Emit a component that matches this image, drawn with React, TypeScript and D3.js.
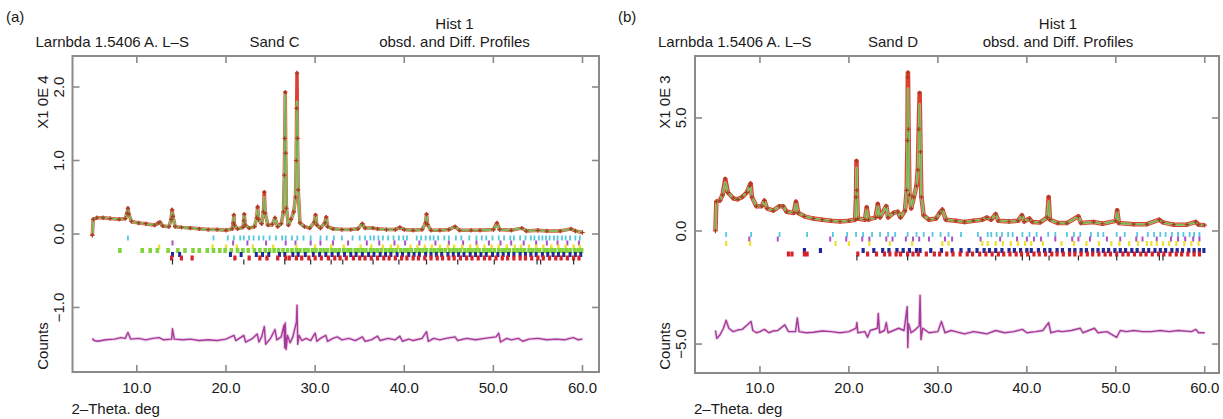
import React from 'react';
import * as d3 from 'd3';

type P = [number, number];

// ---------- shared tick labels ----------
const xTickValues = [10, 20, 30, 40, 50, 60];
const yTickValuesA = [-1, 0, 1, 2];
const yTickValuesB = [-5, 0, 5];

// ---------- Panel (a): Sand C, counts x1E4 ----------
const obsA: P[] = [
  [5.0,-0.02],[5.1,0.2],[5.5,0.22],[6.2,0.22],[7.0,0.21],[8.0,0.2],[8.7,0.21],[8.9,0.28],[9.0,0.35],[9.1,0.27],[9.4,0.17],
  [10.2,0.15],[11.0,0.14],[12.0,0.12],[12.4,0.15],[12.6,0.16],[12.9,0.11],[13.6,0.1],[13.85,0.2],[13.95,0.33],[14.05,0.24],
  [14.3,0.1],[15.0,0.09],[16.0,0.08],[17.0,0.07],[18.0,0.06],[19.0,0.06],[20.0,0.05],[20.7,0.07],[20.82,0.15],[20.88,0.26],
  [20.95,0.12],[21.3,0.07],[21.9,0.09],[22.0,0.18],[22.05,0.27],[22.15,0.12],[22.6,0.08],[23.2,0.1],[23.45,0.22],[23.55,0.37],
  [23.65,0.2],[24.0,0.14],[24.2,0.3],[24.3,0.57],[24.4,0.28],[24.7,0.12],[25.2,0.13],[25.5,0.22],[25.8,0.1],[26.2,0.14],
  [26.45,0.3],[26.55,0.8],[26.6,1.3],[26.65,1.93],[26.7,1.1],[26.78,0.35],[27.0,0.12],[27.3,0.2],[27.6,0.3],[27.8,0.5],
  [27.88,1.0],[27.93,1.71],[27.97,2.19],[28.02,1.3],[28.1,0.6],[28.3,0.15],[28.8,0.1],[29.4,0.08],[29.9,0.16],[30.05,0.26],
  [30.2,0.12],[30.6,0.08],[31.1,0.15],[31.25,0.23],[31.4,0.1],[32.0,0.07],[33.0,0.06],[34.0,0.06],[34.8,0.07],[35.3,0.14],
  [35.6,0.08],[36.5,0.08],[37.0,0.07],[38.0,0.06],[39.0,0.06],[39.5,0.09],[40.0,0.06],[41.0,0.05],[42.0,0.06],[42.4,0.15],
  [42.5,0.27],[42.6,0.13],[43.0,0.05],[44.0,0.05],[45.0,0.06],[45.7,0.1],[46.2,0.05],[47.5,0.05],[48.5,0.05],[50.0,0.06],
  [50.4,0.15],[50.7,0.06],[52.0,0.05],[53.2,0.08],[53.7,0.04],[55.0,0.05],[56.0,0.04],[57.5,0.04],[58.7,0.07],[59.2,0.04],[60.0,0.02]
];
// calculated profile: where it differs from the observed points
const calcTopsA: P[] = [
  [5.0,0.0],[9.0,0.33],[13.95,0.3],[20.88,0.24],[22.05,0.25],[23.55,0.33],[24.3,0.5],[26.6,1.2],[26.65,1.89],
  [27.93,1.5],[27.97,1.8],[30.05,0.24],[31.25,0.21],[42.5,0.24],[50.4,0.13]
];
const diffA: P[] = [
  [5.0,-1.42],[5.2,-1.45],[5.6,-1.46],[6.5,-1.44],[7.5,-1.43],[8.2,-1.41],[8.7,-1.42],[9.0,-1.34],[9.3,-1.43],[10.2,-1.42],
  [11.0,-1.44],[11.8,-1.42],[12.5,-1.41],[13.0,-1.44],[13.9,-1.43],[14.0,-1.29],[14.2,-1.43],[15.2,-1.44],[16.0,-1.43],
  [17.0,-1.45],[18.0,-1.44],[19.0,-1.45],[20.0,-1.43],[20.9,-1.38],[21.1,-1.45],[21.5,-1.42],[22.0,-1.38],[22.2,-1.47],
  [23.0,-1.42],[23.5,-1.36],[23.7,-1.47],[24.0,-1.4],[24.3,-1.26],[24.45,-1.5],[25.0,-1.42],[25.5,-1.3],[25.7,-1.44],
  [26.2,-1.4],[26.5,-1.24],[26.6,-1.55],[26.65,-1.21],[26.75,-1.57],[26.9,-1.38],[27.2,-1.48],[27.5,-1.4],[27.9,-1.2],
  [27.97,-0.97],[28.05,-1.5],[28.2,-1.38],[28.5,-1.45],[29.0,-1.42],[29.5,-1.45],[30.0,-1.35],[30.2,-1.46],[30.6,-1.42],
  [31.2,-1.38],[31.4,-1.46],[32.0,-1.42],[32.5,-1.4],[33.0,-1.44],[33.8,-1.42],[34.5,-1.45],[35.3,-1.4],[35.6,-1.46],
  [36.3,-1.44],[37.0,-1.39],[37.3,-1.45],[38.2,-1.42],[39.0,-1.44],[39.5,-1.39],[39.8,-1.46],[40.5,-1.43],[41.0,-1.45],
  [42.0,-1.42],[42.5,-1.33],[42.7,-1.46],[43.3,-1.42],[44.0,-1.44],[44.7,-1.42],[45.7,-1.4],[46.0,-1.45],[47.0,-1.42],
  [48.0,-1.44],[49.0,-1.42],[50.3,-1.4],[50.6,-1.35],[50.8,-1.47],[51.5,-1.42],[52.0,-1.44],[52.8,-1.42],[53.3,-1.46],
  [54.0,-1.43],[55.0,-1.42],[56.0,-1.44],[57.0,-1.43],[58.0,-1.44],[58.6,-1.42],[59.0,-1.41],[59.5,-1.44],[60.0,-1.43]
];
const refCyanA = [9.0,18.6,20.2,20.9,21.6,22.0,22.6,23.1,23.7,24.2,24.9,25.6,26.3,26.7,27.4,28.0,28.7,29.5,30.6,31.3,32.1,33.0,34.2,35.0,35.6,36.2,36.6,37.1,37.6,38.2,38.8,39.4,39.9,40.3,41.4,41.9,42.4,42.9,43.3,43.8,44.5,45.0,45.8,46.4,47.3,48.1,48.7,49.2,49.9,50.6,51.2,51.9,52.3,53.0,53.6,54.2,54.6,55.1,55.5,55.9,56.3,56.8,57.2,57.7,58.1,58.6,59.2,59.7];
const refMagentaA = [14.0,20.8,22.4,24.5,26.7,27.8,29.5,30.6,32.0,33.7,35.8,37.2,38.9,40.1,41.7,43.5,45.0,46.6,48.1,49.5,50.8,52.0,53.4,54.8,56.0,57.2,58.3,59.6];
const refYellowA = [12.5,18.5,20.0,21.2,23.0,25.3,27.9,30.0,31.8,33.2,35.1,36.3,37.6,38.5,39.3,40.7,41.5,42.3,43.1,44.0,44.9,45.6,46.5,47.4,48.2,49.0,49.8,50.6,51.5,52.4,53.1,54.0,54.8,55.6,56.5,57.3,58.1,59.0,59.7];
const refGreenA = [8.1,10.6,11.5,12.3,13.5,14.6,15.4,16.3,17.0,17.9,18.6,19.3,19.9,20.6,21.3,21.9,22.5,23.2,23.8,24.4,24.9,25.4,25.9,26.4,26.9,27.4,27.9,28.3,28.8,29.2,29.7,30.1,30.6,31.0,31.4,31.9,32.3,32.7,33.2,33.6,34.0,34.5,34.9,35.3,35.7,36.2,36.6,37.0,37.4,37.9,38.3,38.7,39.1,39.6,40.0,40.4,40.8,41.3,41.7,42.1,42.5,43.0,43.4,43.8,44.2,44.6,45.1,45.5,45.9,46.3,46.8,47.2,47.6,48.0,48.4,48.9,49.3,49.7,50.1,50.6,51.0,51.4,51.8,52.3,52.7,53.1,53.5,54.0,54.4,54.8,55.2,55.7,56.1,56.5,56.9,57.4,57.8,58.2,58.6,59.1,59.5,59.9];
const refBlueA = [14.0,14.8,20.5,21.7,23.4,24.1,24.8,26.0,26.6,27.5,28.1,28.9,29.8,30.5,31.2,31.9,32.6,33.3,34.0,34.6,35.3,36.0,36.6,37.3,37.9,38.5,39.2,39.8,40.5,41.1,41.7,42.4,43.0,43.6,44.2,44.9,45.5,46.1,46.7,47.4,48.0,48.6,49.2,49.9,50.5,51.1,51.7,52.3,53.0,53.6,54.2,54.8,55.5,56.1,56.7,57.3,57.9,58.6,59.2,59.8];
const refRedA = [13.9,15.0,16.2,21.0,22.6,23.8,24.6,25.8,26.7,27.1,27.9,28.5,29.3,30.0,30.7,31.5,32.2,32.8,33.5,34.3,35.0,35.6,36.3,37.0,37.7,38.3,39.0,39.7,40.3,41.0,41.6,42.3,43.0,43.7,44.3,45.0,45.6,46.3,47.0,47.6,48.3,49.0,49.6,50.3,51.0,51.6,52.3,53.0,53.6,54.3,55.0,55.6,56.3,57.0,57.6,58.3,59.0,59.6];
const refBlackA = [14.0,22.0,26.6,29.5,31.8,33.1,36.5,39.4,42.5,46.0,50.1,54.9,55.3,59.0];

// ---------- Panel (b): Sand D, counts x1E3 ----------
const obsB: P[] = [
  [5.0,0.0],[5.1,1.3],[5.5,1.35],[5.8,1.6],[6.1,2.3],[6.4,1.7],[7.0,1.45],[7.5,1.4],[8.0,1.5],[8.5,1.7],[8.85,2.0],[8.95,2.1],
  [9.1,1.5],[9.6,1.1],[10.2,1.1],[10.5,1.35],[10.8,1.0],[11.5,0.9],[12.2,1.1],[12.6,1.1],[13.0,0.85],[13.8,0.8],[14.05,1.3],
  [14.3,0.8],[15.0,0.65],[16.0,0.55],[17.0,0.5],[18.0,0.45],[19.0,0.42],[20.0,0.45],[20.7,0.5],[20.8,1.5],[20.85,3.1],
  [20.9,1.8],[21.0,0.55],[21.8,0.5],[22.0,1.05],[22.2,0.5],[23.0,0.6],[23.25,1.2],[23.5,0.6],[24.2,1.1],[24.4,0.6],[25.0,0.8],
  [25.5,0.85],[25.8,0.6],[26.3,0.9],[26.5,1.8],[26.58,4.0],[26.62,6.8],[26.64,7.0],[26.7,4.5],[26.8,1.6],[27.0,1.0],[27.3,1.5],
  [27.6,2.0],[27.75,2.7],[27.85,4.5],[27.95,6.1],[28.05,3.5],[28.15,1.5],[28.4,0.7],[29.0,0.5],[29.8,0.55],[30.2,0.8],
  [30.5,0.95],[30.9,0.5],[32.0,0.45],[33.0,0.4],[34.0,0.45],[35.0,0.5],[35.5,0.6],[36.0,0.5],[36.5,0.75],[36.8,0.45],
  [38.0,0.42],[39.0,0.45],[39.45,0.7],[39.7,0.42],[40.3,0.55],[40.6,0.4],[41.5,0.38],[42.3,0.6],[42.45,1.5],[42.6,0.5],
  [43.5,0.35],[44.5,0.35],[45.8,0.65],[46.1,0.35],[47.5,0.4],[48.5,0.32],[50.0,0.45],[50.15,0.92],[50.35,0.35],[52.0,0.3],
  [53.5,0.3],[54.9,0.5],[55.3,0.38],[56.5,0.28],[58.0,0.28],[59.0,0.4],[59.3,0.28],[60.0,0.26]
];
const calcTopsB: P[] = [
  [5.0,0.0],[6.1,2.15],[8.95,1.95],[14.05,1.2],[20.8,1.2],[20.85,2.8],[22.0,0.95],[23.25,1.1],[26.58,3.0],[26.62,5.5],
  [26.64,6.3],[27.85,3.8],[27.95,5.6],[42.45,1.3],[50.15,0.85]
];
const diffB: P[] = [
  [5.0,-4.4],[5.15,-4.75],[5.5,-4.6],[5.9,-4.3],[6.2,-3.95],[6.5,-4.3],[7.0,-4.45],[7.5,-4.38],[8.0,-4.35],[8.6,-4.15],
  [9.0,-4.0],[9.2,-4.4],[9.6,-4.5],[10.0,-4.45],[10.5,-4.35],[11.0,-4.5],[11.5,-4.42],[12.0,-4.4],[12.8,-4.15],[13.2,-4.45],
  [14.0,-4.45],[14.2,-3.85],[14.4,-4.45],[15.2,-4.5],[16.0,-4.48],[17.0,-4.42],[18.0,-4.45],[19.0,-4.5],[20.0,-4.45],
  [20.8,-4.3],[20.9,-4.05],[21.0,-4.5],[21.8,-4.45],[22.1,-4.7],[22.4,-4.4],[23.2,-4.3],[23.3,-3.65],[23.45,-4.5],[24.0,-4.4],
  [24.2,-4.05],[24.4,-4.5],[25.0,-4.4],[25.6,-4.3],[26.2,-4.4],[26.55,-3.35],[26.62,-5.15],[26.7,-4.1],[27.0,-4.5],
  [27.5,-4.35],[27.9,-4.2],[28.0,-2.85],[28.1,-4.8],[28.3,-4.3],[29.0,-4.5],[30.0,-4.45],[30.4,-4.0],[30.8,-4.5],[31.5,-4.4],
  [32.0,-4.45],[33.0,-4.55],[34.0,-4.45],[34.8,-4.5],[35.5,-4.55],[36.5,-4.4],[37.5,-4.5],[38.5,-4.45],[39.5,-4.35],[40.0,-4.5],
  [41.0,-4.45],[41.8,-4.4],[42.45,-4.05],[42.7,-4.5],[43.5,-4.42],[44.0,-4.45],[45.0,-4.4],[46.0,-4.3],[46.3,-4.5],[47.6,-4.3],
  [48.0,-4.5],[49.0,-4.45],[50.1,-4.7],[50.5,-4.4],[51.2,-4.45],[52.0,-4.4],[53.0,-4.45],[54.0,-4.45],[55.0,-4.4],[56.0,-4.45],
  [57.0,-4.4],[58.5,-4.45],[59.0,-4.35],[59.3,-4.5],[60.0,-4.5]
];
const refCyanB = [6.2,9.0,12.2,15.3,18.2,19.8,20.8,21.6,22.6,23.5,24.4,25.2,26.6,27.6,28.4,29.4,30.3,31.2,32.6,34.5,35.6,36.0,36.6,37.2,37.9,38.4,39.5,40.3,41.1,42.4,43.2,44.5,45.3,46.0,47.2,48.0,48.6,50.1,51.0,52.4,53.6,54.3,55.0,55.6,56.3,57.0,57.6,58.3,58.8,59.4];
const refMagentaB = [8.8,12.0,17.9,19.7,21.5,22.3,24.2,24.9,26.4,27.2,27.9,29.0,30.8,31.6,34.8,37.0,38.9,40.0,40.8,41.6,43.2,45.1,45.8,47.1,49.0,50.5,52.3,53.0,54.6,56.2,57.0,57.8,58.7,59.4];
const refYellowB = [6.2,8.9,18.5,20.0,22.3,24.6,27.1,30.5,31.2,35.0,35.6,36.5,37.3,38.2,39.0,39.8,40.5,41.8,43.9,45.3,46.7,48.1,49.5,50.4,51.5,52.5,53.5,54.0,54.6,55.3,56.0,56.8,57.7,58.5,59.3];
const refBlueB = [15.0,16.8,21.6,22.8,23.8,24.5,25.4,26.1,26.8,27.6,28.0,29.2,30.4,31.6,32.6,33.5,34.4,35.2,35.8,36.5,37.2,38.0,38.6,39.3,40.0,40.5,41.3,42.0,42.6,43.4,44.0,44.8,45.4,46.1,46.7,47.4,48.0,48.6,49.2,49.9,50.5,51.1,51.8,52.4,53.1,53.7,54.4,55.0,55.6,56.3,56.9,57.5,58.2,58.8,59.4,59.9];
const refRedB = [13.2,13.6,15.0,15.3,21.0,22.1,23.1,24.0,24.6,25.3,25.8,26.6,27.2,27.8,28.7,29.6,30.2,31.0,31.7,32.5,33.3,33.9,34.7,35.4,36.1,36.8,37.4,38.1,38.8,39.4,40.1,40.8,41.4,42.1,42.8,43.4,44.1,44.8,45.4,46.1,46.8,47.4,48.1,48.8,49.4,50.1,50.8,51.4,52.1,52.8,53.4,54.1,54.8,55.4,56.1,56.8,57.4,58.1,58.8,59.4];
const refBlackB = [20.9,26.6,36.5,39.5,40.3,42.5,45.8,50.1,54.9,55.3];

// ---------- styles ----------
const FONT = '"Liberation Sans", Arial, Helvetica, sans-serif';
const C = {
  frame: '#8a8a8a',
  obs: '#d8301f',
  obsMark: '#a83a22',
  calc: '#5fba4a',
  calcHalo: '#a8de92',
  diff: '#a83a9c',
  diffHalo: '#dcb0d6',
  cyan: '#55c8e2',
  magenta: '#b04fc4',
  yellow: '#efe030',
  green: '#82d43c',
  blue: '#1e2a98',
  red: '#d8222a',
  black: '#2a2a2a',
  text: '#1a1a1a',
};

interface Row { pos: number[]; color: string; dy: number; w: number; }
interface Cfg {
  label: string; sample: string; scaleLabel: string;
  xDomain: [number, number]; xRange: [number, number];
  yDomain: [number, number]; yRange: [number, number];
  yTicks: number[];
  obs: P[]; calcTops: P[]; diff: P[];
  rows: Row[];
  bandW: number;
  ox: number;
  sampleDx: number; histDx: number;
}

const panelA: Cfg = {
  label: '(a)', sample: 'Sand C', scaleLabel: 'X1 0E 4',
  xDomain: [2.78, 61.85], xRange: [72.5, 599],
  yDomain: [-1.878, 2.422], yRange: [372, 56],
  yTicks: yTickValuesA,
  obs: obsA, calcTops: calcTopsA, diff: diffA,
  rows: [
    { pos: refCyanA, color: C.cyan, dy: 4, w: 1.8 },
    { pos: refMagentaA, color: C.magenta, dy: 9, w: 2 },
    { pos: refYellowA, color: C.yellow, dy: 13, w: 2.4 },
    { pos: refGreenA, color: C.green, dy: 16.5, w: 3.6 },
    { pos: refBlueA, color: C.blue, dy: 20.5, w: 3 },
    { pos: refRedA, color: C.red, dy: 24, w: 3.2 },
    { pos: refBlackA, color: C.black, dy: 28, w: 1.2 },
  ],
  bandW: 3.5,
  ox: 0,
  sampleDx: 202, histDx: 382,
};

const panelB: Cfg = {
  label: '(b)', sample: 'Sand D', scaleLabel: 'X1 0E 3',
  xDomain: [2.7, 61.6], xRange: [695, 1219],
  yDomain: [-6.28, 7.74], yRange: [373, 56],
  yTicks: yTickValuesB,
  obs: obsB, calcTops: calcTopsB, diff: diffB,
  rows: [
    { pos: refCyanB, color: C.cyan, dy: 3.5, w: 1.8 },
    { pos: refMagentaB, color: C.magenta, dy: 8, w: 2 },
    { pos: refYellowB, color: C.yellow, dy: 12.5, w: 2.2 },
    { pos: refBlueB, color: C.blue, dy: 19.5, w: 3.2 },
    { pos: refRedB, color: C.red, dy: 23, w: 3.2 },
    { pos: refBlackB, color: C.black, dy: 27, w: 1.2 },
  ],
  bandW: 4.5,
  ox: 612,
  sampleDx: 198, histDx: 363,
};

function Panel({ cfg }: { cfg: Cfg }) {
  const x = d3.scaleLinear().domain(cfg.xDomain).range(cfg.xRange);
  const y = d3.scaleLinear().domain(cfg.yDomain).range(cfg.yRange);
  const line = d3.line<P>().x(d => x(d[0])).y(d => y(d[1]));
  const [x0, x1] = cfg.xRange;
  const [yb, yt] = cfg.yRange;
  const y0 = y(0);
  const tickLen = 7;
  const fmt = d3.format('.1f');
  const minus = (s: string) => s.replace('-', '\u2212');

  const tops = new Map(cfg.calcTops.map(d => [d[0], d[1]]));
  const calc: P[] = cfg.obs.map(d => [d[0], tops.has(d[0]) ? (tops.get(d[0]) as number) : d[1]]);

  const marks = cfg.obs
    .map(d => `M${x(d[0]) - 2.2},${y(d[1])}h4.4M${x(d[0])},${y(d[1]) - 2.2}v4.4`)
    .join('');

  return (
    <g fontFamily={FONT} fill={C.text}>
      {/* titles */}
      <text x={cfg.ox + 6} y={22} fontSize={15}>{cfg.label}</text>
      <text x={x0 - 37} y={47} fontSize={15}>Larnbda 1.5406 A. L–S</text>
      <text x={x0 + cfg.sampleDx} y={47} fontSize={15} textAnchor="middle">{cfg.sample}</text>
      <text x={x0 + cfg.histDx} y={29} fontSize={15} textAnchor="middle">Hist 1</text>
      <text x={x0 + cfg.histDx} y={47} fontSize={15} textAnchor="middle">obsd. and Diff. Profiles</text>

      {/* reflection markers */}
      {cfg.rows.map((r, i) => (
        <g key={i} stroke={r.color} strokeWidth={r.w}>
          {r.pos.map((p, j) => (
            <line key={j} x1={x(p)} x2={x(p)} y1={y0 + r.dy - 2.5} y2={y0 + r.dy + 2.5} />
          ))}
        </g>
      ))}

      {/* observed band */}
      <path d={line(cfg.obs) || ''} fill="none" stroke={C.obs} strokeWidth={cfg.bandW} strokeLinejoin="round" strokeOpacity={0.92} />
      {/* calculated */}
      <path d={line(calc) || ''} fill="none" stroke={C.calcHalo} strokeWidth={2.6} strokeLinejoin="round" strokeOpacity={0.75} />
      <path d={line(calc) || ''} fill="none" stroke={C.calc} strokeWidth={1.1} strokeLinejoin="round" />
      {/* observed markers */}
      <path d={marks} fill="none" stroke={C.obsMark} strokeWidth={1.2} />
      {/* difference */}
      <path d={line(cfg.diff) || ''} fill="none" stroke={C.diffHalo} strokeWidth={3.2} strokeLinejoin="round" strokeOpacity={0.6} />
      <path d={line(cfg.diff) || ''} fill="none" stroke={C.diff} strokeWidth={1.4} strokeLinejoin="round" />

      {/* frame */}
      <rect x={x0} y={yt} width={x1 - x0} height={yb - yt} fill="none" stroke={C.frame} strokeWidth={2} />
      {xTickValues.map(v => (
        <g key={'x' + v} stroke={C.frame} strokeWidth={1.6}>
          <line x1={x(v)} x2={x(v)} y1={yt} y2={yt + tickLen} />
          <line x1={x(v)} x2={x(v)} y1={yb} y2={yb - tickLen} />
        </g>
      ))}
      {cfg.yTicks.map(v => (
        <g key={'y' + v} stroke={C.frame} strokeWidth={1.6}>
          <line x1={x0} x2={x0 + tickLen} y1={y(v)} y2={y(v)} />
          <line x1={x1} x2={x1 - tickLen} y1={y(v)} y2={y(v)} />
        </g>
      ))}

      {/* x tick labels */}
      {xTickValues.map(v => (
        <text key={'xl' + v} x={x(v)} y={393} fontSize={15} textAnchor="middle">{fmt(v)}</text>
      ))}
      <text x={x0 - 1} y={414} fontSize={15}>2–Theta. deg</text>

      {/* y tick labels (rotated) */}
      {cfg.yTicks.map(v => (
        <text key={'yl' + v} transform={`translate(${x0 - 9},${y(v)}) rotate(-90)`} fontSize={15} textAnchor="middle">
          {minus(fmt(v))}
        </text>
      ))}
      <text transform={`translate(${x0 - 25},${102}) rotate(-90)`} fontSize={15} textAnchor="middle">{cfg.scaleLabel}</text>
      <text transform={`translate(${x0 - 25},${346}) rotate(-90)`} fontSize={15} textAnchor="middle">Counts</text>
    </g>
  );
}

export default function App() {
  return (
    <svg width={1223} height={419} style={{ position: 'absolute', left: 0, top: 0, background: '#fff' }}>
      <rect width={1223} height={419} fill="#fff" />
      <Panel cfg={panelA} />
      <Panel cfg={panelB} />
    </svg>
  );
}
